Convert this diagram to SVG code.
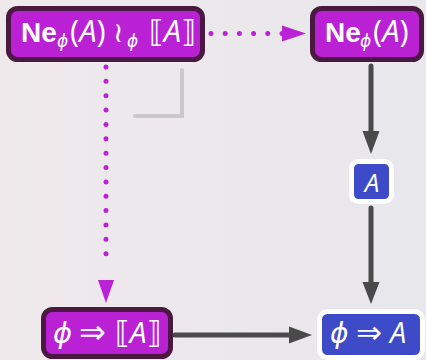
<svg xmlns="http://www.w3.org/2000/svg" width="426" height="360" viewBox="0 0 426 360">
  <defs>
    <linearGradient id="bg" x1="0" y1="0" x2="1" y2="0">
      <stop offset="0" stop-color="#EFE9EB"/>
      <stop offset="1" stop-color="#E8E7EC"/>
    </linearGradient>
    <style>
      .mag { fill: #BA21D5; stroke: #4A1942; stroke-width: 5; }
      .blu { fill: #3E4BC9; stroke: #FFFFFF; stroke-width: 5; }
      .t { fill: #FFFFFF; font-family: "Open Sans", "DejaVu Sans", sans-serif; font-weight: 400; }
      .sym { font-family: "DejaVu Sans", sans-serif; }
      .ne { font-family: "Liberation Sans", Arial, sans-serif; font-weight: bold; }
      .it { font-style: italic; }
      .dot { fill: none; stroke: #BB22D8; stroke-width: 5; stroke-linecap: round; }
      .solid { fill: none; stroke: #4A4A4A; stroke-width: 5; stroke-linecap: round; }
      .corner { fill: none; stroke: #C9C9C9; stroke-width: 4; stroke-linecap: round; stroke-linejoin: miter; }
    </style>
  </defs>

  <rect width="426" height="360" fill="url(#bg)"/>

  <!-- connectors -->
  <g id="connectors">
    <!-- dotted: top-left to top-right -->
    <path class="dot" d="M211 33.5 H282" stroke-dasharray="0 14.2"/>
    <polygon points="282,25.5 306,33.5 282,41.5" fill="#BB22D8"/>
    <!-- dotted: top-left down to bottom-left -->
    <path class="dot" d="M106 67 V268" stroke-dasharray="0 14.36"/>
    <polygon points="98,280 114,280 106,303" fill="#BB22D8"/>
    <!-- pullback corner mark -->
    <path class="corner" d="M182 70 V116 H135"/>
    <!-- solid: top-right down to A -->
    <path class="solid" d="M371 66 V134"/>
    <polygon points="362.5,131 379.5,131 371,154" fill="#4A4A4A"/>
    <!-- solid: A down to bottom-right -->
    <path class="solid" d="M371 208 V285"/>
    <polygon points="362.5,282 379.5,282 371,304" fill="#4A4A4A"/>
    <!-- solid: bottom-left to bottom-right -->
    <path class="solid" d="M175 335 H292"/>
    <polygon points="289,326.5 289,343.5 312,335" fill="#4A4A4A"/>
  </g>

  <!-- top-left node -->
  <g id="node-ne-wr">
    <rect class="mag" x="8.5" y="8.5" width="194" height="51" rx="9"/>
    <text class="t" y="42" font-size="31">
      <tspan class="ne" x="21" font-size="28">Ne</tspan><tspan x="57" y="47" font-size="17" class="sym it">ϕ</tspan><tspan x="70" y="42">(</tspan><tspan class="it">A</tspan><tspan>)</tspan><tspan x="113" y="42" class="sym" font-size="28">≀</tspan><tspan x="127" y="47" font-size="17" class="sym it">ϕ</tspan><tspan x="149" y="42" class="sym" font-size="30">⟦</tspan><tspan class="it">A</tspan><tspan class="sym" font-size="30">⟧</tspan>
    </text>
  </g>

  <!-- top-right node -->
  <g id="node-ne">
    <rect class="mag" x="312.5" y="8.5" width="109" height="51" rx="9"/>
    <text class="t" y="42" font-size="31">
      <tspan class="ne" x="325" font-size="28">Ne</tspan><tspan x="360" y="47" font-size="17" class="sym it">ϕ</tspan><tspan x="373" y="42">(</tspan><tspan class="it">A</tspan><tspan>)</tspan>
    </text>
  </g>

  <!-- middle-right node -->
  <g id="node-a">
    <rect class="blu" x="351.5" y="161.5" width="40" height="40" rx="7"/>
    <text class="t it" x="372" y="192" font-size="26" text-anchor="middle">A</text>
  </g>

  <!-- bottom-left node -->
  <g id="node-phi-sem">
    <rect class="mag" x="43.5" y="309.5" width="127" height="47" rx="9"/>
    <text class="t" y="343" font-size="30">
      <tspan x="53" class="sym it" font-size="29">ϕ</tspan><tspan x="79" class="sym" font-size="32">⇒</tspan><tspan x="115" class="sym" font-size="30">⟦</tspan><tspan class="it">A</tspan><tspan class="sym" font-size="30">⟧</tspan>
    </text>
  </g>

  <!-- bottom-right node -->
  <g id="node-phi-a">
    <rect class="blu" x="319.5" y="311.5" width="103" height="46" rx="8"/>
    <text class="t" y="343" font-size="29">
      <tspan x="330" class="sym it" font-size="28">ϕ</tspan><tspan x="356" class="sym" font-size="31">⇒</tspan><tspan x="390" class="it">A</tspan>
    </text>
  </g>
</svg>
